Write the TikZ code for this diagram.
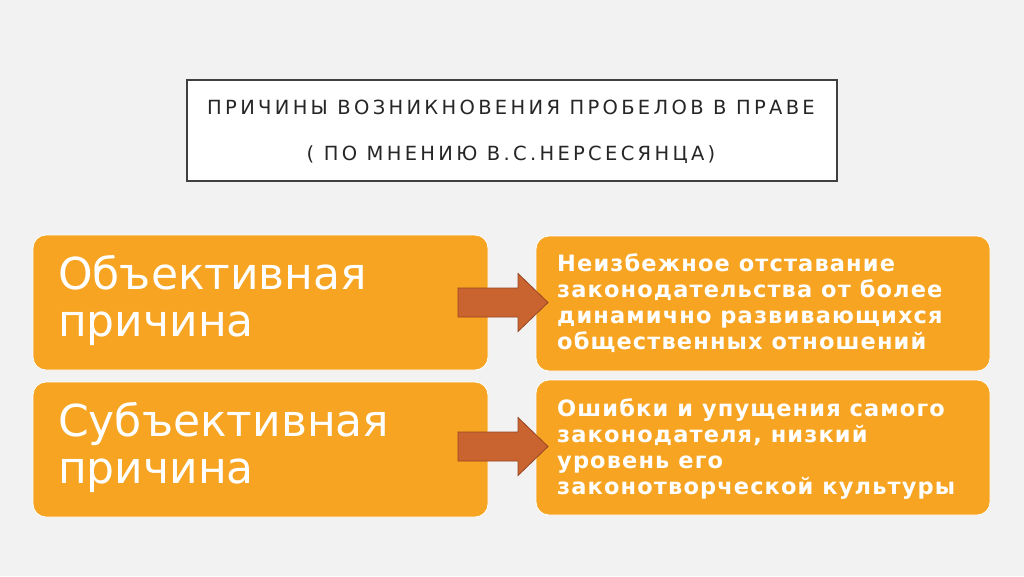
\documentclass[tikz,border=0pt]{standalone}
\usepackage{fontspec}
\setmainfont{DejaVu Sans}
\newfontfamily\titlefont[LetterSpace=17]{DejaVu Sans}
\newfontfamily\rfont[LetterSpace=5]{DejaVu Sans}
\usetikzlibrary{positioning}
\definecolor{bgc}{RGB}{242,242,242}
\definecolor{orng}{RGB}{246,164,33}
\definecolor{arrfill}{RGB}{201,100,48}
\definecolor{arrdraw}{RGB}{150,70,35}
\definecolor{frame}{RGB}{64,64,64}
\begin{document}
\begin{tikzpicture}[x=1pt,y=-1pt,
  obox/.style={draw=white, line width=0.8pt, fill=orng, rounded corners=13pt, inner sep=0pt},
  ltext/.style={anchor=west, text=white, font=\fontsize{44}{47}\selectfont, align=left, inner sep=0pt},
  rtext/.style={anchor=west, text=white, font=\rfont\bfseries\fontsize{22.5}{26}\selectfont, align=left, inner sep=0pt},
  barrow/.style={fill=arrfill, draw=arrdraw, line width=0.8pt}]
\fill[bgc] (0,0) rectangle (1024,576);
\useasboundingbox (0,0) rectangle (1024,576);
% title
\draw[frame, line width=2.5pt, fill=white] (187,80) rectangle (837,181);
\node[inner sep=0pt, font=\titlefont\fontsize{19.5}{22}\selectfont, text=black!85] (t1) at (511,107) {ПРИЧИНЫ ВОЗНИКНОВЕНИЯ ПРОБЕЛОВ В ПРАВЕ};
\node[inner sep=0pt, font=\titlefont\fontsize{19.5}{22}\selectfont, text=black!85] (t2) at (511,155) {( ПО МНЕНИЮ В.С.НЕРСЕСЯНЦА)};
% boxes
\path[obox] (33,235) rectangle (488,370);
\path[obox] (33,382) rectangle (488,517);
\path[obox] (536,236) rectangle (990,371);
\path[obox] (536,380) rectangle (990,515);
\node[ltext] (l1) at (58,300) {Объективная\\причина};
\node[ltext] (l2) at (58,447) {Субъективная\\причина};
\node[rtext] (r1) at (557,303) {Неизбежное отставание\\законодательства от более\\динамично развивающихся\\общественных отношений};
\node[rtext] (r2) at (557,449) {Ошибки и упущения самого\\законодателя, низкий\\уровень его\\законотворческой культуры};
% arrows
\foreach \yc/\nm in {302.5/a1, 446.5/a2}{
  \coordinate (\nm) at (458,\yc);
  \draw[barrow] ([yshift=14.5pt]\nm) -- ++(60,0) -- ++(0,-14.5) -- ++(30,29) -- ++(-30,29) -- ++(0,-14.5) -- ++(-60,0) -- cycle;
}
\end{tikzpicture}
\end{document}
